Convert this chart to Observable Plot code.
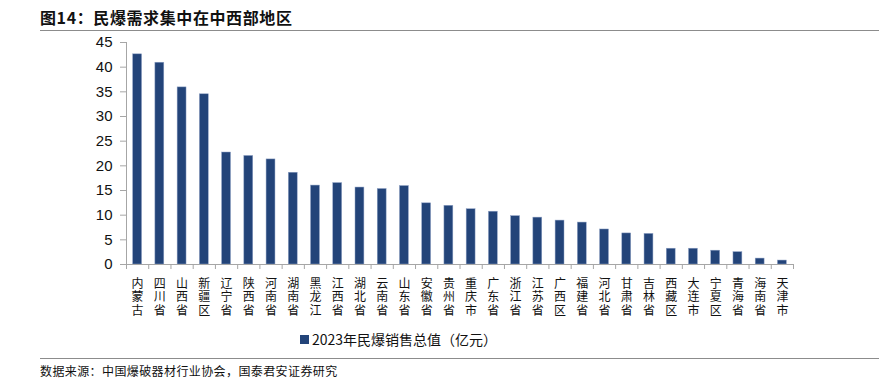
<!DOCTYPE html>
<html>
<head>
<meta charset="utf-8">
<script src="https://cdn.jsdelivr.net/npm/d3@7"></script>
<script src="https://cdn.jsdelivr.net/npm/@observablehq/plot@0.6"></script>
<style>
  html, body { margin: 0; padding: 0; background: #fff; }
  #wrap { position: relative; width: 879px; height: 387px; overflow: hidden; font-family: "Noto Sans CJK SC", sans-serif; }
  #title { position: absolute; left: 40px; top: 5px; font-size: 16px; font-weight: bold; color: #111; letter-spacing: 0.6px; white-space: nowrap; }
  #tline { position: absolute; left: 40px; right: 0; top: 30px; height: 0; border-top: 1.5px solid #8c8c8c; }
  #chart { position: absolute; left: 0; top: 0; }
  #legend { position: absolute; left: 300px; top: 329px; font-size: 14px; color: #111; white-space: nowrap; display: flex; align-items: center; }
  #legend .sw { display: inline-block; width: 9px; height: 9px; background: #234479; margin-right: 3px; }
  #fline { position: absolute; left: 40px; right: 0; top: 358px; height: 0; border-top: 1.5px solid #8c8c8c; }
  #source { position: absolute; left: 40px; top: 362px; font-size: 12px; color: #111; white-space: nowrap; letter-spacing: 0.4px; }
</style>
</head>
<body>
<div id="wrap">
  <div id="chart"></div>
  <div id="title">图14：民爆需求集中在中西部地区</div>
  <div id="tline"></div>
  <div id="legend"><span class="sw"></span><span id="legtext"></span></div>
  <div id="fline"></div>
  <div id="source"></div>
</div>
<script>
const categories = ["内蒙古","四川省","山西省","新疆区","辽宁省","陕西省","河南省","湖南省","黑龙江","江西省","湖北省","云南省","山东省","安徽省","贵州省","重庆市","广东省","浙江省","江苏省","广西区","福建省","河北省","甘肃省","吉林省","西藏区","大连市","宁夏区","青海省","海南省","天津市"];
const values = [42.6, 40.9, 35.9, 34.5, 22.7, 22.0, 21.3, 18.6, 16.0, 16.5, 15.6, 15.3, 15.9, 12.4, 11.9, 11.2, 10.7, 9.8, 9.5, 8.9, 8.5, 7.1, 6.3, 6.2, 3.2, 3.2, 2.8, 2.5, 1.2, 0.8];
const yTicks = [0, 5, 10, 15, 20, 25, 30, 35, 40, 45];
const seriesName = "2023年民爆销售总值（亿元）";
const sourceText = "数据来源：中国爆破器材行业协会，国泰君安证券研究";

const data = categories.map((c, i) => ({ name: c, idx: i, value: values[i] }));
const axisColor = "#a6a6a6";

const chart = Plot.plot({
  width: 879,
  height: 325,
  marginTop: 42,
  marginBottom: 61,
  marginLeft: 126,
  marginRight: 86,
  style: { fontFamily: "'Liberation Sans', Arial, sans-serif", color: "#111", background: "transparent" },
  x: { type: "linear", domain: [0, categories.length] },
  y: { domain: [0, 45] },
  marks: [
    Plot.rectY(data, { x1: d => d.idx + 0.3, x2: d => d.idx + 0.7, y1: 0, y2: "value", fill: "#234479", stroke: "#8da0c4", strokeWidth: 0.5 }),
    Plot.axisY({ ticks: yTicks, tickSize: 6, tickPadding: 8, fontSize: 15, stroke: axisColor, fill: "#111", label: null }),
    Plot.ruleX([0], { stroke: axisColor }),
    Plot.ruleY([0], { stroke: axisColor }),
    Plot.axisX({ ticks: d3.range(0, categories.length + 1), tickSize: 5, tickFormat: () => "", stroke: axisColor, label: null }),
    Plot.text(data, { x: d => d.idx + 0.5, y: 0, text: d => Array.from(d.name).join("\n"), lineAnchor: "top", dy: 14, fontSize: 12, lineHeight: 1.12, fontFamily: "'Noto Sans CJK SC', sans-serif", fill: "#111" })
  ]
});
document.getElementById("chart").appendChild(chart);
document.getElementById("legtext").textContent = seriesName;
document.getElementById("source").textContent = sourceText;
</script>
</body>
</html>
